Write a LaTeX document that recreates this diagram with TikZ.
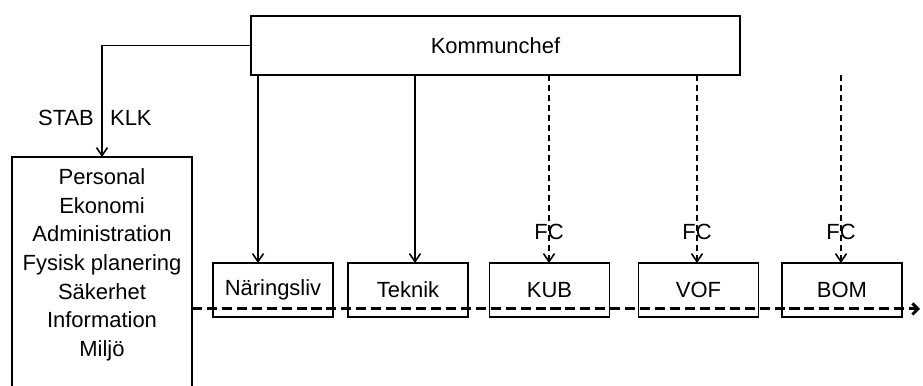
\documentclass[tikz,border=0pt]{standalone}
\usepackage{fontspec}
\setmainfont{Liberation Sans}
\usetikzlibrary{arrows.meta}

\begin{document}
\begin{tikzpicture}[
  >={Straight Barb[length=1.6mm,width=2.2mm]},
  chief/.style={rectangle,draw=black,fill=white,line width=1.1pt,align=center,
    outer sep=0,minimum width=9.79cm,
    minimum height=1.18cm},
  staff/.style={rectangle,draw=black,fill=white,line width=1.1pt,align=center,
    outer sep=0,minimum width=3.6cm,
    minimum height=4.8cm,anchor=north},
  unit/.style={rectangle,draw=black,fill=white,line width=1.1pt,align=center,
    outer sep=0,minimum width=2.4cm,
    minimum height=1.08cm},
  link/.style={line width=0.9pt},
  fclink/.style={line width=0.9pt,dash pattern=on 3.4pt off 2.3pt},
  bus/.style={line width=1.7pt,dash pattern=on 5.7pt off 2.8pt}]
  \fontsize{12.5}{16.3}\selectfont
  \useasboundingbox (0,0) rectangle (18.46,7.72);
  \node[chief] (chef) at (9.91,6.81) {Kommunchef};
  \node[staff] (stab) at (2.04,4.58) {Personal\\Ekonomi\\Administration\\Fysisk planering\\S\"akerhet\\Information\\Milj\"o\\\mbox{}};
  \node[unit] (nar) at (5.46,1.92) {N\"aringsliv};
  \node[unit] (tek) at (8.16,1.92) {Teknik};
  \node[unit] (kub) at (10.99,1.92) {KUB};
  \node[unit] (vof) at (13.97,1.92) {VOF};
  \node[unit] (bom) at (16.84,1.92) {BOM};
  \coordinate (j1) at (5.16,0);
  \coordinate (j2) at (8.30,0);
  \coordinate (j3) at (10.98,0);
  \coordinate (j4) at (13.94,0);
  \coordinate (j5) at (16.82,0);
  \coordinate (busend) at (18.40,1.54);
  \draw[link,->] (chef.west) -| (stab.north)
    node[pos=0.825,left] (stablbl) {STAB}
    node[pos=0.825,right] (klklbl) {KLK};
  \draw[link,->] (chef.south -| j1) -- (j1 |- nar.north);
  \draw[link,->] (chef.south -| j2) -- (j2 |- tek.north);
  \draw[fclink,->] (chef.south -| j3) -- (j3 |- kub.north)
    node[pos=0.835] (fckub) {FC};
  \draw[fclink,->] (chef.south -| j4) -- (j4 |- vof.north)
    node[pos=0.835] (fcvof) {FC};
  \draw[fclink,->] (chef.south -| j5) -- (j5 |- bom.north)
    node[pos=0.835] (fcbom) {FC};
  \draw[bus,-{Straight Barb[length=1.1mm,width=2.2mm]}] (stab.east |- busend) -- (busend);
\end{tikzpicture}
\end{document}
